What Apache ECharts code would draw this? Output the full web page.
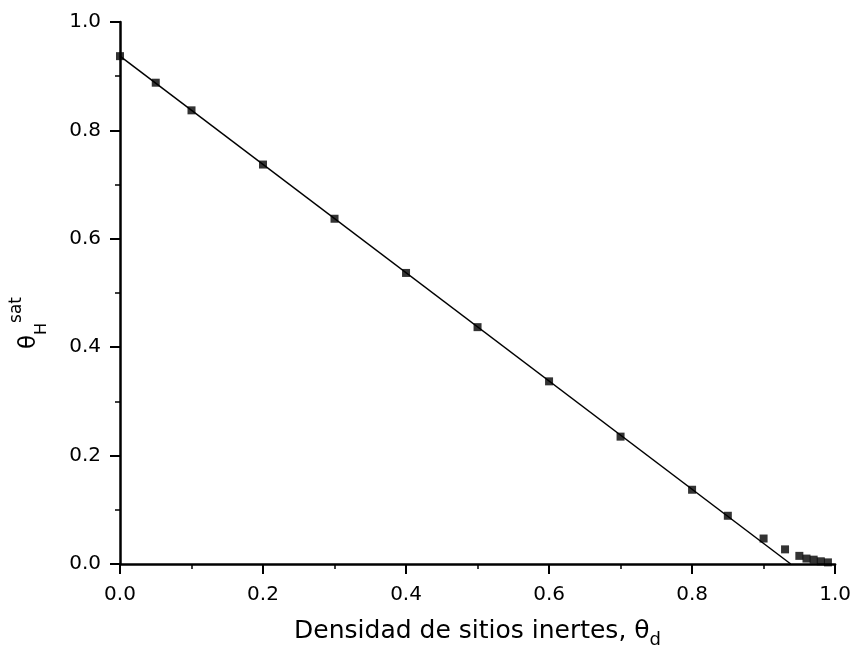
<!DOCTYPE html>
<html>
<head>
<meta charset="utf-8">
<script src="https://cdn.jsdelivr.net/npm/echarts@6/dist/echarts.min.js"></script>
<style>
  html, body { margin: 0; padding: 0; background: #fff; }
  #chart { width: 854px; height: 654px; }
</style>
</head>
<body>
<div id="chart"></div>
<script>
// Fraction of inert sites (x) and saturation coverage of H (y)
const inertDensity = [0, 0.05, 0.1, 0.2, 0.3, 0.4, 0.5, 0.6, 0.7, 0.8, 0.85, 0.9, 0.93, 0.95, 0.96, 0.97, 0.98, 0.99];
const coverageSat = [0.937, 0.888, 0.837, 0.737, 0.637, 0.537, 0.437, 0.337, 0.235, 0.137, 0.089, 0.047, 0.027, 0.015, 0.01, 0.008, 0.005, 0.003];

// Linear fit drawn through the simulated points
const fitX = [0, 0.938];
const fitY = [0.937, 0];

const xTicks = [0, 0.2, 0.4, 0.6, 0.8, 1.0];
const yTicks = [0, 0.2, 0.4, 0.6, 0.8, 1.0];

const FONT = 'DejaVu Sans';
const chart = echarts.init(document.getElementById('chart'), null, { renderer: 'canvas' });

const axisCommon = {
  type: 'value',
  min: 0,
  max: 1.0,
  interval: 0.2,
  splitLine: { show: false },
  axisLine: { show: true, lineStyle: { color: '#000', width: 2.5 } },
  axisTick: { show: true, inside: false, length: 10, lineStyle: { color: '#000', width: 2 } },
  minorTick: { show: true, splitNumber: 2, length: 5, lineStyle: { color: '#000', width: 1.5 } },
  minorSplitLine: { show: false }
};

chart.setOption({
  animation: false,
  backgroundColor: '#fff',
  grid: { left: 117, right: 16, top: 22, bottom: 89, containLabel: false },
  xAxis: Object.assign({}, axisCommon, {
    axisLabel: {
      margin: 21,
      fontFamily: FONT,
      fontSize: 20,
      color: '#000',
      formatter: v => xTicks.includes(+v.toFixed(1)) ? v.toFixed(1) : ''
    },
    name: 'Densidad de sitios inertes, θ{sub|d}',
    nameLocation: 'middle',
    nameGap: 49,
    nameTextStyle: {
      fontFamily: FONT,
      fontSize: 25,
      color: '#000',
      rich: {
        sub: { fontFamily: FONT, fontSize: 18, color: '#000', verticalAlign: 'bottom', lineHeight: 36 }
      }
    }
  }),
  yAxis: Object.assign({}, axisCommon, {
    axisLabel: {
      margin: 19,
      fontFamily: FONT,
      fontSize: 20,
      color: '#000',
      formatter: v => yTicks.includes(+v.toFixed(1)) ? v.toFixed(1) : ''
    },
    name: '{t|θ}{sub|H}{sup|sat}',
    nameLocation: 'middle',
    nameGap: 70,
    nameRotate: 90,
    nameTextStyle: {
      rich: {
        t: { fontFamily: FONT, fontSize: 23, color: '#000', verticalAlign: 'middle', lineHeight: 42 },
        sub: { fontFamily: FONT, fontSize: 16, color: '#000', verticalAlign: 'bottom', lineHeight: 42 },
        // trailing padding moves the rotated title down along the axis
        sup: { fontFamily: FONT, fontSize: 17, color: '#000', verticalAlign: 'top', lineHeight: 42, padding: [0, 60, 0, 0] }
      }
    }
  }),
  series: [
    {
      type: 'line',
      data: fitX.map((x, i) => [x, fitY[i]]),
      showSymbol: false,
      lineStyle: { color: '#000', width: 1.5 },
      z: 2
    },
    {
      type: 'scatter',
      data: inertDensity.map((x, i) => [x, coverageSat[i]]),
      symbol: 'rect',
      symbolSize: 8,
      itemStyle: { color: '#000' },
      z: 3
    }
  ]
});
</script>
</body>
</html>
